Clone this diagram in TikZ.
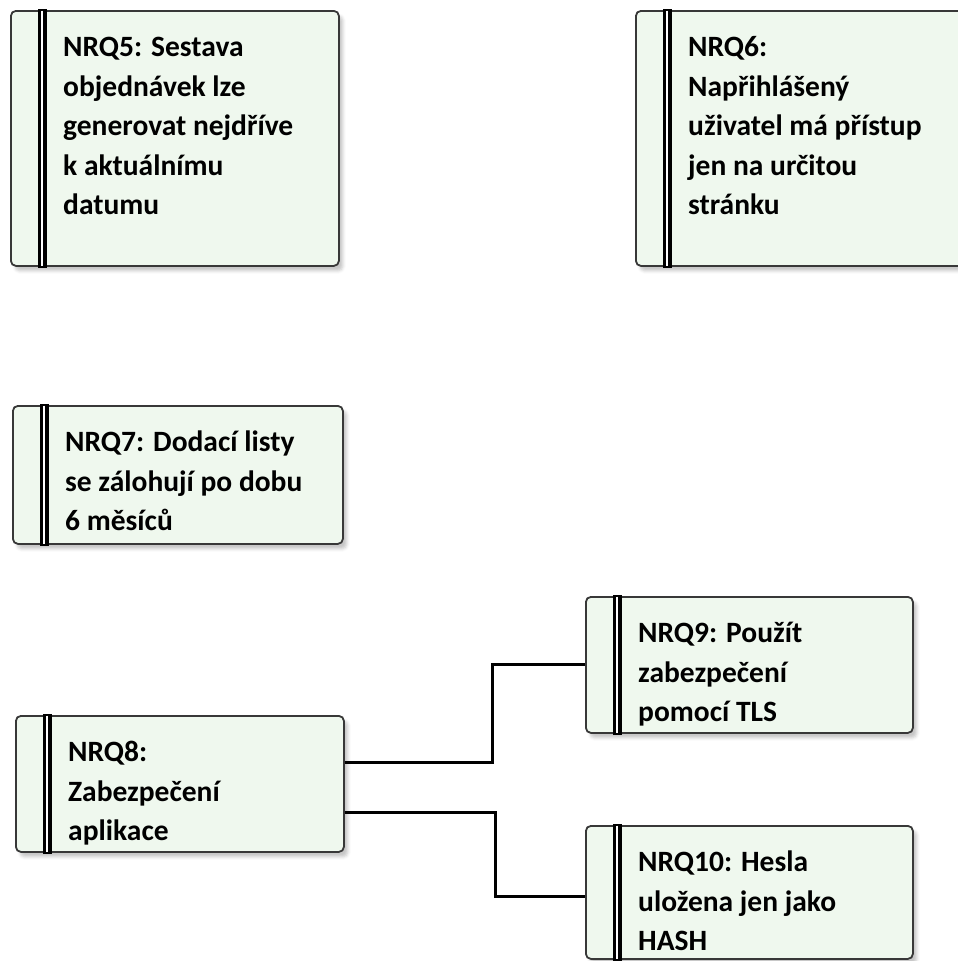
\documentclass[tikz,border=0pt]{standalone}
\usepackage{fontspec}
\setmainfont{Carlito}
\usetikzlibrary{shadows.blur}

\definecolor{boxfill}{HTML}{EFF8EE}
\definecolor{boxline}{HTML}{383838}

\tikzset{
  req/.style={draw=boxline, line width=1.8pt, fill=boxfill, rounded corners=5pt,
    anchor=north west, inner sep=0pt,
    blur shadow={shadow xshift=4pt, shadow yshift=-5pt, shadow opacity=22, shadow blur radius=3pt}},
  reqtext/.style={anchor=base west, inner sep=0pt, font=\bfseries\fontsize{29.5}{39.5}\selectfont},
  barouter/.style={black, line width=8.5pt},
  barinner/.style={white, line width=2pt},
  conn/.style={black, line width=3pt},
}

% requirement box: name, x, y, width, height, text
\newcommand\reqbox[6]{%
  \node[req, minimum width=#4pt, minimum height=#5pt] (#1) at (#2,#3) {};
  \draw[barouter] ([xshift=32.5pt,yshift=1pt]#1.north west) -- ([xshift=32.5pt,yshift=-1pt]#1.south west);
  \draw[barinner] ([xshift=31.5pt,yshift=-0.5pt]#1.north west) -- ([xshift=31.5pt,yshift=0.5pt]#1.south west);
  \node[reqtext] (#1t) at ([xshift=53pt,yshift=-46.5pt]#1.north west)
    {\parbox[t]{#4pt}{\raggedright #6}};
}

\begin{document}
\begin{tikzpicture}[x=1pt, y=-1pt]
  \useasboundingbox (0,0) rectangle (958,961);

  \reqbox{n5}{10}{10}{328}{255}{NRQ5: Sestava\\objednávek lze\\generovat nejdříve\\k aktuálnímu\\datumu}
  \reqbox{n6}{635}{10}{330}{255}{NRQ6:\\Napřihlášený\\uživatel má přístup\\jen na určitou\\stránku}
  \reqbox{n7}{12}{405}{330}{138}{NRQ7: Dodací listy\\se zálohují po dobu\\6 měsíců}
  \reqbox{n8}{15}{715}{328}{136}{NRQ8:\\Zabezpečení\\aplikace}
  \reqbox{n9}{585}{596}{327}{136}{NRQ9: Použít\\zabezpečení\\pomocí TLS}
  \reqbox{n10}{585}{825}{327}{133}{NRQ10: Hesla\\uložena jen jako\\HASH}

  % links from NRQ8 to its two refinements
  \draw[conn] ([yshift=21pt]n8.east) -- ++(148,0) |- (n9.west);
  \draw[conn] ([yshift=-29pt]n8.east) -- ++(151,0) |- ([yshift=-4pt]n10.west);
\end{tikzpicture}
\end{document}
